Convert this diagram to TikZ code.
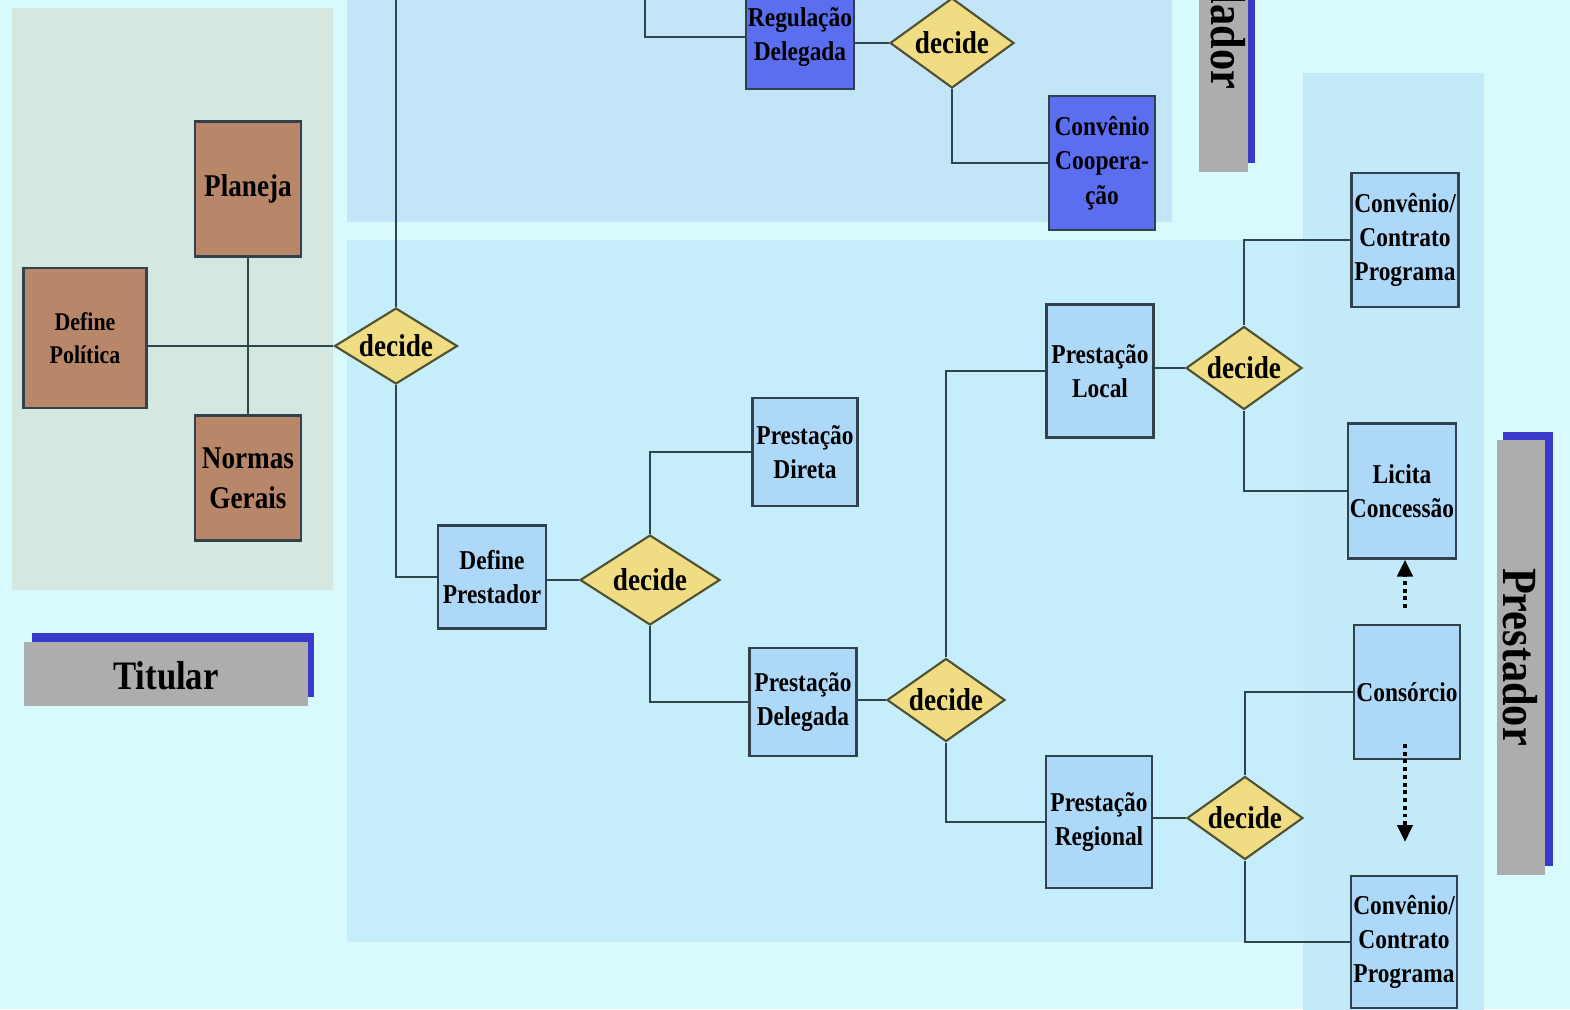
\documentclass[tikz,border=0pt]{standalone}
\usepackage{fontspec}
\setmainfont{Liberation Serif}[FakeStretch=0.86]
\usetikzlibrary{shapes.geometric, arrows.meta}

\definecolor{pagebg}{RGB}{217,250,252}
\definecolor{titularbg}{RGB}{213,231,225}
\definecolor{topbg}{RGB}{196,228,248}
\definecolor{mainbg}{RGB}{198,238,250}
\definecolor{columnbg}{RGB}{195,234,249}
\definecolor{brownfill}{RGB}{184,135,106}
\definecolor{lightfill}{RGB}{173,216,247}
\definecolor{darkfill}{RGB}{92,110,240}
\definecolor{decidefill}{RGB}{240,220,130}
\definecolor{decideline}{RGB}{80,80,50}
\definecolor{boxline}{RGB}{50,66,76}
\definecolor{linkline}{RGB}{45,70,78}
\definecolor{taggray}{RGB}{173,173,173}
\definecolor{tagblue}{RGB}{58,58,200}

\begin{document}
\begin{tikzpicture}[
    x=0.02cm, y=-0.02cm,
    box/.style={rectangle, draw=boxline, line width=1.2pt, align=center, inner sep=1pt,
        font=\bfseries\fontsize{15.5}{19.5}\selectfont},
    brownbox/.style={box, fill=brownfill},
    lightbox/.style={box, fill=lightfill},
    darkbox/.style={box, fill=darkfill},
    choice/.style={diamond, draw=decideline, line width=1.2pt, fill=decidefill, inner sep=0pt,
        shape aspect=1.7, font=\bfseries\fontsize{18}{20}\selectfont},
    link/.style={draw=linkline, line width=1.3pt},
    dotarrow/.style={-{Triangle[length=0.34cm, width=0.3cm]}, line width=2.4pt,
        dash pattern=on 2.2pt off 2.2pt, black},
    tagtext/.style={font=\bfseries\fontsize{23}{26}\selectfont, inner sep=0pt}
]

    \useasboundingbox (0,0) rectangle (1570,1009);
    \fill[pagebg] (0,0) rectangle (1570,1009);

    % --- Panels ---
    \fill[titularbg] (12,8) rectangle (333,590);
    \fill[topbg] (347,-20) rectangle (1172,222);
    \fill[columnbg] (1303,73) rectangle (1484,1030);
    \fill[mainbg] (347,240) rectangle (1303,942);

    % --- Titular ---
    \node[brownbox, minimum width=2.12cm, minimum height=2.7cm,
        font=\bfseries\fontsize{18}{22}\selectfont] (Planeja) at (248,189) {Planeja};
    \node[brownbox, minimum width=2.46cm, minimum height=2.8cm,
        font=\bfseries\fontsize{14.5}{19}\selectfont] (DefPol) at (85,338) {Define\\Política};
    \node[brownbox, minimum width=2.12cm, minimum height=2.5cm,
        font=\bfseries\fontsize{18}{23}\selectfont] (Normas) at (248,478) {Normas\\Gerais};

    \node[choice, minimum width=2.46cm, minimum height=1.52cm] (D1) at (396,346) {decide};

    \draw[link] (Planeja) -- (Normas);
    \draw[link] (DefPol.east |- D1.west) -- (D1.west);

    % --- Regulador (top panel) ---
    \node[darkbox, minimum width=2.16cm, minimum height=2.08cm] (RegDel) at (800,37) {Regulação\\Delegada};
    \node[choice, minimum width=2.48cm, minimum height=1.8cm] (D2) at (952,43) {decide};
    \node[darkbox, minimum width=2.12cm, minimum height=2.68cm] (ConvCoop) at (1102,163) {Convênio\\Coopera-\\ção};

    \coordinate (topA) at (398,-20);
    \coordinate (topB) at (645,-20);

    \draw[link] (D1.north) -- (D1.north |- topA);
    \draw[link] (topB) |- (RegDel.west);
    \draw[link] (RegDel.east |- D2.west) -- (D2.west);
    \draw[link] (D2.south) |- (ConvCoop.west);

    % --- Prestador (main panel) ---
    \node[lightbox, minimum width=2.16cm, minimum height=2.06cm] (DefPrest) at (492,577) {Define\\Prestador};
    \node[choice, minimum width=2.8cm, minimum height=1.8cm] (D3) at (650,580) {decide};
    \node[lightbox, minimum width=2.1cm, minimum height=2.16cm] (PrestDir) at (805,452) {Prestação\\Direta};
    \node[lightbox, minimum width=2.14cm, minimum height=2.16cm] (PrestDel) at (803,702) {Prestação\\Delegada};
    \node[choice, minimum width=2.36cm, minimum height=1.66cm] (D4) at (946,700) {decide};
    \node[lightbox, minimum width=2.14cm, minimum height=2.66cm] (PrestLoc) at (1100,371) {Prestação\\Local};
    \node[lightbox, minimum width=2.12cm, minimum height=2.64cm] (PrestReg) at (1099,822) {Prestação\\Regional};
    \node[choice, minimum width=2.32cm, minimum height=1.66cm] (D5) at (1244,368) {decide};
    \node[choice, minimum width=2.32cm, minimum height=1.66cm] (D6) at (1245,818) {decide};

    \draw[link] (D1.south) |- (DefPrest.west);
    \draw[link] (DefPrest.east |- D3.west) -- (D3.west);
    \draw[link] (D3.north) |- (PrestDir.west);
    \draw[link] (D3.south) |- (PrestDel.west);
    \draw[link] (PrestDel.east |- D4.west) -- (D4.west);
    \draw[link] (D4.north) |- (PrestLoc.west);
    \draw[link] (D4.south) |- (PrestReg.west);
    \draw[link] (PrestLoc.east |- D5.west) -- (D5.west);
    \draw[link] (PrestReg.east |- D6.west) -- (D6.west);

    % --- Right column ---
    \node[lightbox, minimum width=2.14cm, minimum height=2.68cm] (ConvTop) at (1405,240) {Convênio/\\Contrato\\Programa};
    \node[lightbox, minimum width=2.12cm, minimum height=2.7cm] (Licita) at (1402,491) {Licita\\Concessão};
    \node[lightbox, minimum width=2.12cm, minimum height=2.68cm] (Consorcio) at (1407,692) {Consórcio};
    \node[lightbox, minimum width=2.12cm, minimum height=2.64cm] (ConvBot) at (1404,942) {Convênio/\\Contrato\\Programa};

    \draw[link] (D5.north) |- (ConvTop.west);
    \draw[link] (D5.south) |- (Licita.west);
    \draw[link] (D6.north) |- (Consorcio.west);
    \draw[link] (D6.south) |- (ConvBot.west);

    % dotted arrows out of Consorcio
    \coordinate (upStart) at (1405,608);
    \coordinate (downStart) at (1405,744);
    \coordinate (downEnd) at (1405,842);
    \draw[dotarrow] (upStart) -- (upStart |- Licita.south);
    \draw[dotarrow] (downStart) -- (downEnd);

    % --- Labels ---
    \fill[tagblue] (32,633) rectangle (314,697);
    \fill[taggray] (24,642) rectangle (308,706);
    \node[tagtext] (titular) at (166,676) {Titular};

    \fill[tagblue] (1205,-260) rectangle (1255,163);
    \fill[taggray] (1199,-260) rectangle (1248,172);
    \node[tagtext, rotate=-90, font=\bfseries\fontsize{28}{30}\selectfont] (regulador) at (1223,-6) {Regulador};

    \fill[tagblue] (1503,432) rectangle (1553,866);
    \fill[taggray] (1497,440) rectangle (1545,875);
    \node[tagtext, rotate=-90, font=\bfseries\fontsize{28}{30}\selectfont] (prestador) at (1520,657) {Prestador};

\end{tikzpicture}
\end{document}
